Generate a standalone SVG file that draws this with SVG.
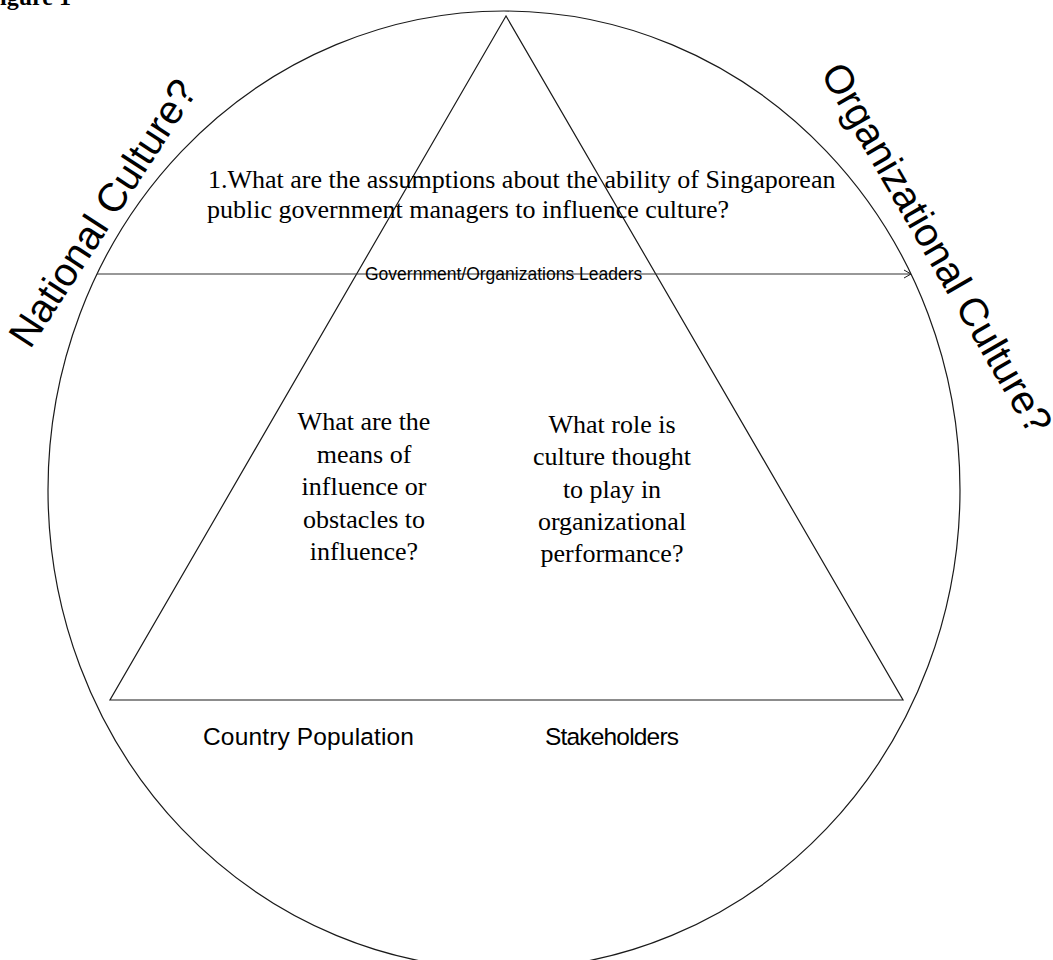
<svg xmlns="http://www.w3.org/2000/svg" width="1053" height="960" viewBox="0 0 1053 960">
  <defs>
    <style>
      .ln { fill: none; stroke: #1a1a1a; stroke-width: 1.2; }
      .serif { font-family: "Liberation Serif", "Times New Roman", serif; font-size: 26px; fill: #000; }
      .sans { font-family: "Liberation Sans", Arial, sans-serif; fill: #000; }
      .big { font-size: 40px; }
      .mid { font-size: 24.5px; }
      .small { font-size: 17.5px; }
    </style>
    <marker id="openArrow" markerWidth="10" markerHeight="10" refX="8" refY="5" orient="auto" markerUnits="userSpaceOnUse">
      <path d="M1,1 L8,5 L1,9" fill="none" stroke="#1a1a1a" stroke-width="1"/>
    </marker>
  </defs>
  <rect width="1053" height="960" fill="#ffffff"/>

  <text x="0" y="5" font-family="'Liberation Serif', 'Times New Roman', serif" font-weight="bold" font-size="24">igure 1</text>

  <g id="circle">
    <ellipse class="ln" cx="504" cy="490" rx="456" ry="479"/>
  </g>

  <g id="triangle">
    <polygon class="ln" points="506,16 110,700 903,700"/>
  </g>

  <g id="connectors">
    <line x1="97" y1="274" x2="911" y2="274" stroke="#333333" stroke-width="1.2" marker-end="url(#openArrow)"/>
  </g>

  <g id="label-leaders">
    <text class="sans small" x="365" y="280">Government/Organizations Leaders</text>
  </g>

  <g id="national-culture">
    <text class="sans big" x="30" y="350" transform="rotate(-57 30 350)">National Culture?</text>
  </g>

  <g id="organizational-culture">
    <text class="sans big" x="820" y="73" transform="rotate(60 820 73)">Organizational Culture?</text>
  </g>

  <g id="question-1">
    <text class="serif" x="208" y="188">1.What are the assumptions about the ability of Singaporean</text>
    <text class="serif" x="207" y="218">public government managers to influence culture?</text>
  </g>

  <g id="question-means" text-anchor="middle">
    <text class="serif" x="364" y="430">What are the</text>
    <text class="serif" x="364" y="462.5">means of</text>
    <text class="serif" x="364" y="495">influence or</text>
    <text class="serif" x="364" y="527.5">obstacles to</text>
    <text class="serif" x="364" y="560">influence?</text>
  </g>

  <g id="question-role" text-anchor="middle">
    <text class="serif" x="612" y="433">What role is</text>
    <text class="serif" x="612" y="465">culture thought</text>
    <text class="serif" x="612" y="497.5">to play in</text>
    <text class="serif" x="612" y="530">organizational</text>
    <text class="serif" x="612" y="562">performance?</text>
  </g>

  <g id="country-population">
    <text class="sans mid" x="203" y="745" textLength="211">Country Population</text>
  </g>

  <g id="stakeholders">
    <text class="sans mid" x="545" y="745" textLength="134">Stakeholders</text>
  </g>
</svg>
